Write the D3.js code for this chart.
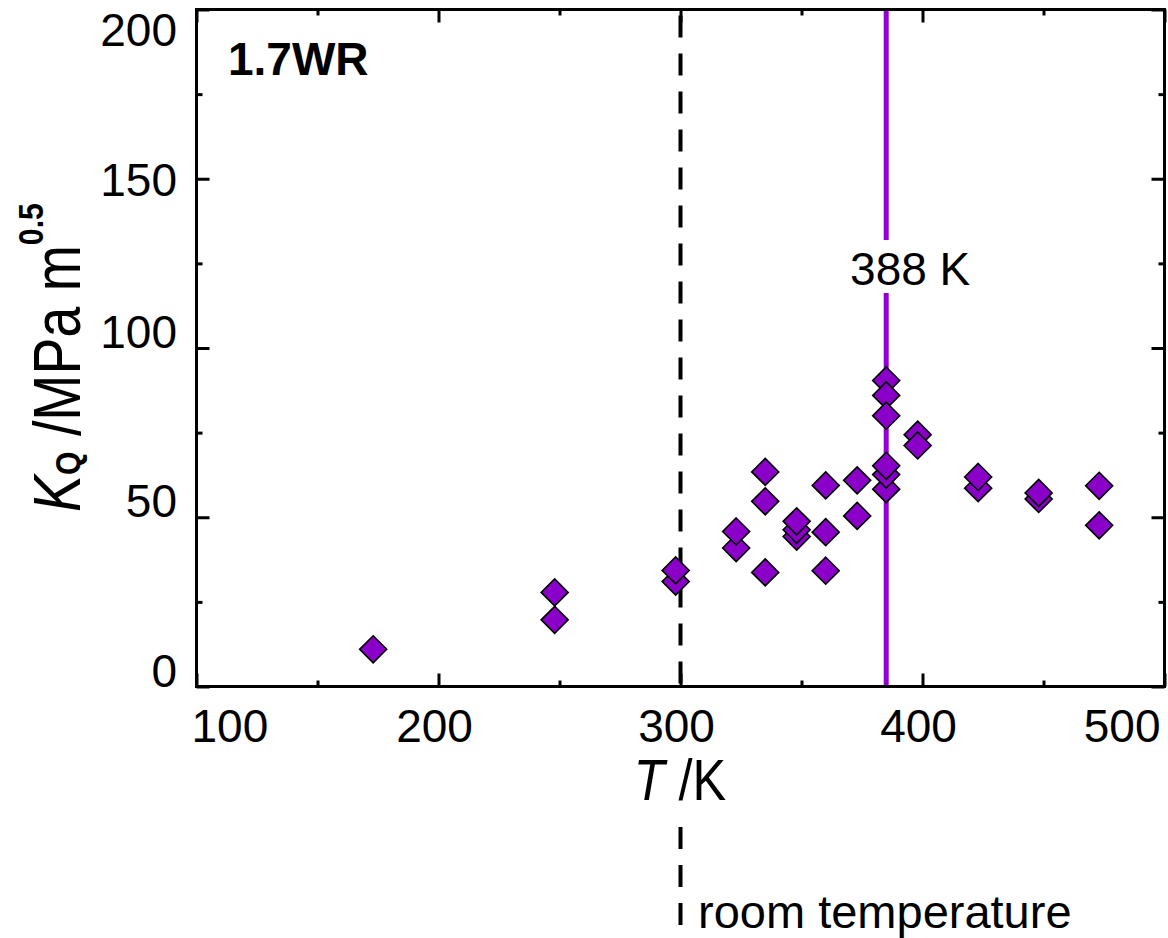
<!DOCTYPE html>
<meta charset="utf-8">
<script src="https://d3js.org/d3.v7.min.js"></script>
<style>
  body { margin: 0; background: #fff; }
  text { font-family: "Liberation Sans", Arial, sans-serif; fill: #000; }
</style>
<body>
<svg id="chart" width="1168" height="938"></svg>
<script>
// temperature (K) and K_Q (MPa m^0.5) for each test
var temps = [173, 248, 248, 298, 298, 323, 323, 335, 335, 335, 348, 348, 348,
             360, 360, 360, 373, 373, 385, 385, 385, 385, 385, 385,
             398, 398, 423, 423, 448, 448, 473, 473]
var kq    = [11.0, 19.7, 27.8, 31.0, 34.3, 40.9, 45.8, 33.7, 54.7, 63.4, 44.3, 46.3, 48.8,
             34.2, 45.6, 59.4, 50.4, 60.9, 58.3, 62.6, 65.2, 90.4, 86.0, 80.0,
             74.4, 71.2, 58.6, 61.9, 55.4, 57.2, 47.6, 59.3]

var xMajor = [100, 200, 300, 400, 500]
var xMinor = [150, 250, 350, 450]
var yMajor = [0, 50, 100, 150, 200]
var yMinor = [25, 75, 125, 175]

var roomT = 300
var transT = 385
var transLabel = "388 K"
var sampleLabel = "1.7WR"

var purple = '#9400d3'
var markFill = '#8a00c8'

var x = d3.scaleLinear().domain([100, 500]).range([196.5, 1164.5])
var y = d3.scaleLinear().domain([0, 200]).range([686.5, 9.5])

var svg = d3.select('#chart')

// reference lines (behind the markers)
svg.append('line')
  .attr('x1', x(roomT)).attr('x2', x(roomT))
  .attr('y1', y(200)).attr('y2', y(0))
  .attr('stroke', '#000').attr('stroke-width', 4)
  .attr('stroke-dasharray', '22,16').attr('stroke-dashoffset', 32)
svg.append('line')
  .attr('x1', x(roomT)).attr('x2', x(roomT))
  .attr('y1', 827).attr('y2', 927)
  .attr('stroke', '#000').attr('stroke-width', 4)
  .attr('stroke-dasharray', '22,16')

svg.append('line')
  .attr('x1', x(transT)).attr('x2', x(transT))
  .attr('y1', y(200)).attr('y2', 240)
  .attr('stroke', purple).attr('stroke-width', 5)
svg.append('line')
  .attr('x1', x(transT)).attr('x2', x(transT))
  .attr('y1', 293).attr('y2', y(0))
  .attr('stroke', purple).attr('stroke-width', 5)

// ticks on all four sides, pointing inwards
function ticks(axis, vals, size, tr) {
  var g = svg.append('g').attr('transform', tr)
    .call(axis.tickValues(vals).tickSize(size).tickFormat(''))
  g.select('.domain').remove()
  g.selectAll('.tick line').attr('stroke', '#000').attr('stroke-width', 3)
}
ticks(d3.axisBottom(x), xMajor, -13, 'translate(0,' + y(0) + ')')
ticks(d3.axisBottom(x), xMinor, -6, 'translate(0,' + y(0) + ')')
ticks(d3.axisTop(x), xMajor, -13, 'translate(0,' + y(200) + ')')
ticks(d3.axisTop(x), xMinor, -6, 'translate(0,' + y(200) + ')')
ticks(d3.axisLeft(y), yMajor, -13, 'translate(' + x(100) + ',0)')
ticks(d3.axisLeft(y), yMinor, -6, 'translate(' + x(100) + ',0)')
ticks(d3.axisRight(y), yMajor, -13, 'translate(' + x(500) + ',0)')
ticks(d3.axisRight(y), yMinor, -6, 'translate(' + x(500) + ',0)')

svg.append('rect')
  .attr('x', x(100)).attr('y', y(200))
  .attr('width', x(500) - x(100)).attr('height', y(0) - y(200))
  .attr('fill', 'none').attr('stroke', '#000').attr('stroke-width', 3)

// tick labels
svg.append('g').selectAll('text')
  .data(xMajor).enter().append('text')
  .attr('x', function (d) {
    if (d === 100) return x(d) - 5
    if (d === 500) return x(d) - 4
    return x(d) - 4
  })
  .attr('y', 742)
  .attr('font-size', 46)
  .attr('text-anchor', function (d) { return d === 100 ? 'start' : d === 500 ? 'end' : 'middle' })
  .text(function (d) { return d })

var yLabelShift = { 150: 17, 200: 36 }
svg.append('g').selectAll('text')
  .data(yMajor).enter().append('text')
  .attr('x', 177)
  .attr('y', function (d) { return y(d) + (yLabelShift[d] || 0) })
  .attr('font-size', 46)
  .attr('text-anchor', 'end')
  .text(function (d) { return d })

// markers
var diamond = 'M0,-13.5L13.5,0L0,13.5L-13.5,0Z'
svg.append('g').selectAll('path')
  .data(temps).enter().append('path')
  .attr('d', diamond)
  .attr('transform', function (d, i) { return 'translate(' + x(d) + ',' + y(kq[i]) + ')' })
  .attr('fill', markFill).attr('stroke', '#000').attr('stroke-width', 1.6)

// annotations
svg.append('text').attr('x', 228).attr('y', 75)
  .attr('font-size', 46).attr('font-weight', 'bold').text(sampleLabel)

svg.append('text').attr('x', x(transT) + 24).attr('y', 285)
  .attr('font-size', 46).attr('text-anchor', 'middle').text(transLabel)

svg.append('text').attr('x', 698).attr('y', 928)
  .attr('font-size', 47).text('room temperature')

// axis titles
var xt = svg.append('text')
  .attr('transform', 'translate(' + 680 + ',800) scale(0.87,1)')
  .attr('font-size', 58).attr('text-anchor', 'middle')
xt.append('tspan').attr('font-style', 'italic').text('T')
xt.append('tspan').text(' /K')

var yt = svg.append('text')
  .attr('transform', 'translate(80,512) rotate(-90) scale(0.84,1)')
  .attr('font-size', 66)
yt.append('tspan').attr('font-style', 'italic').text('K')
yt.append('tspan').attr('font-size', 36).attr('font-weight', 'bold').text('Q')
yt.append('tspan').text(' /MPa m')
yt.append('tspan').attr('font-size', 36).attr('font-weight', 'bold').attr('dy', -37).text('0.5')
</script>
</body>
